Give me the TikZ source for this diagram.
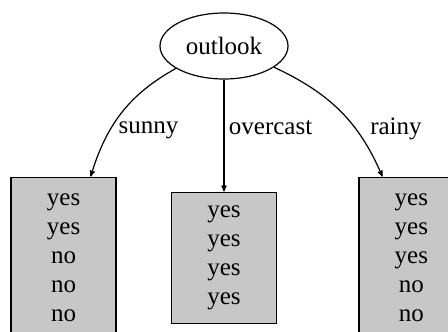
\documentclass[tikz,border=0pt]{standalone}
\usepackage{fontspec}
\setmainfont{Liberation Serif}
\usepackage{tikz}
\usetikzlibrary{arrows,positioning,shapes}

\begin{document}
\begin{tikzpicture}[
    x=1pt,y=-1pt,
    font=\fontsize{25}{29}\selectfont,
    attr/.style={draw,ellipse,line width=1.2pt,minimum width=128pt,minimum height=66pt},
    leaf/.style={draw,line width=1.4pt,fill=black!22,align=center,inner sep=0pt,minimum width=105pt},
    post/.style={->,shorten >=0pt,>=stealth',line width=1.2pt}
    ]
\useasboundingbox (0,0) rectangle (448,332);

\node[attr] (outlook) at (224,46) {outlook};

\node[leaf, minimum height=131pt, below=112pt of outlook] (overcastbox) {yes\\yes\\yes\\yes};
\node[leaf, minimum height=161pt, left=54pt of overcastbox] (sunnybox) {yes\\yes\\no\\no\\no};
\node[leaf, minimum height=161pt, right=81pt of overcastbox] (rainybox) {yes\\yes\\yes\\no\\no};

\coordinate (sunnyin) at ([xshift=27pt]sunnybox.north);
\coordinate (rainyin) at ([xshift=-29pt]rainybox.north);

 \draw[post] (outlook.205) to[out=209,in=73] node[pos=0.66,right=5pt] {sunny} (sunnyin);
 \draw[post] (outlook) -- node[pos=0.43,right=1pt] {overcast} (overcastbox);
 \draw[post] (outlook.337) to[out=-25,in=113] node[pos=0.66,right=11pt] {rainy} (rainyin);

\end{tikzpicture}
\end{document}
